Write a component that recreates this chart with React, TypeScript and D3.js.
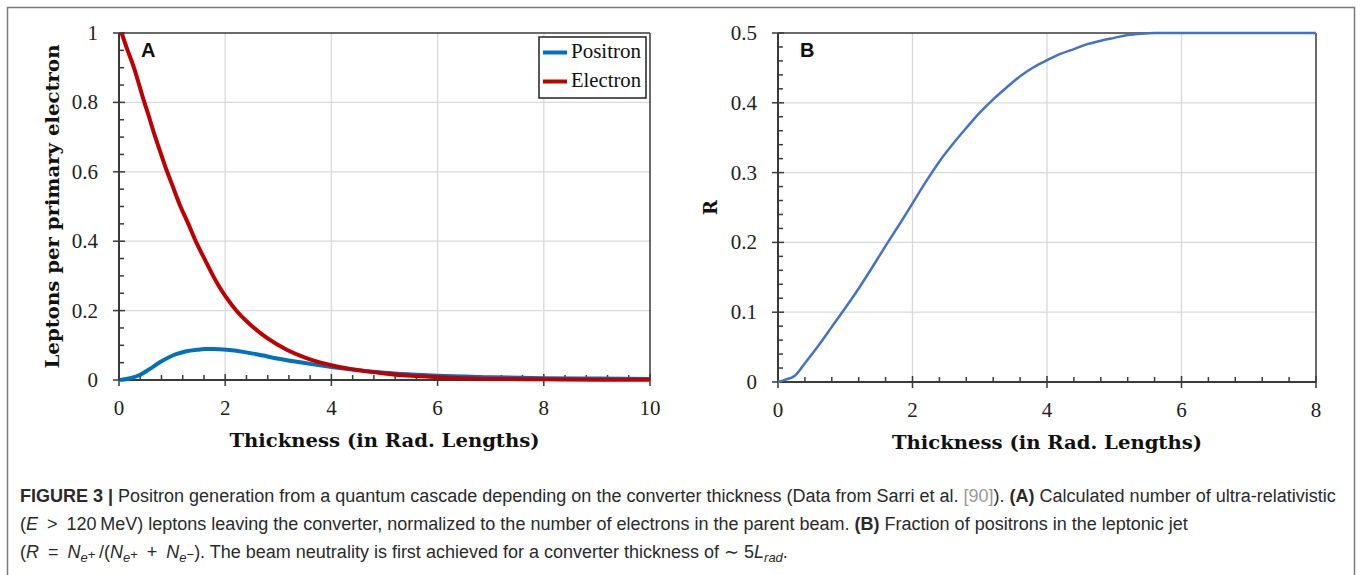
import React from "react";
import * as d3 from "d3";

// ---------- DATA ----------
const electronX = [0.05, 0.15, 0.27, 0.35, 0.45, 0.55, 0.65, 0.77, 0.9, 1.0, 1.15, 1.3, 1.46, 1.62, 1.78, 1.9, 2.03, 2.22, 2.47, 2.78, 3.16, 3.53, 4.04, 4.35, 5.0, 5.5, 6.0, 6.5, 7.0, 8.0, 9.0, 10.0];
const electronY = [1.0, 0.955, 0.905, 0.866, 0.814, 0.766, 0.716, 0.661, 0.603, 0.563, 0.503, 0.452, 0.395, 0.346, 0.298, 0.266, 0.236, 0.198, 0.16, 0.122, 0.087, 0.063, 0.041, 0.032, 0.019, 0.012, 0.008, 0.005, 0.003, 0.002, 0.001, 0.001];
const positronX = [0.02, 0.21, 0.41, 0.58, 0.77, 0.96, 1.09, 1.27, 1.46, 1.62, 1.78, 2.03, 2.34, 2.59, 3.09, 3.66, 4.04, 4.35, 5.0, 5.5, 6.0, 7.0, 8.0, 9.0, 10.0];
const positronY = [0.0, 0.005, 0.016, 0.032, 0.051, 0.067, 0.075, 0.083, 0.087, 0.089, 0.089, 0.087, 0.081, 0.074, 0.059, 0.045, 0.037, 0.031, 0.021, 0.016, 0.012, 0.008, 0.005, 0.004, 0.003];
const ratioX = [0, 0.1, 0.25, 0.4, 0.6, 0.8, 1.0, 1.2, 1.4, 1.6, 1.8, 2.0, 2.2, 2.4, 2.6, 2.8, 3.0, 3.2, 3.4, 3.6, 3.8, 4.0, 4.2, 4.4, 4.6, 4.8, 5.0, 5.2, 5.4, 5.6, 6.0, 7.0, 8.0];
const ratioY = [0, 0.003, 0.009, 0.027, 0.052, 0.079, 0.106, 0.134, 0.164, 0.195, 0.225, 0.256, 0.287, 0.316, 0.341, 0.364, 0.386, 0.405, 0.422, 0.438, 0.451, 0.461, 0.47, 0.477, 0.484, 0.489, 0.493, 0.497, 0.499, 0.5, 0.5, 0.5, 0.5];

const xTicksA = [0, 2, 4, 6, 8, 10];
const yTicksA = [0, 0.2, 0.4, 0.6, 0.8, 1];
const yTickLabelsA = ["0", "0.2", "0.4", "0.6", "0.8", "1"];
const xTicksB = [0, 2, 4, 6, 8];
const yTicksB = [0, 0.1, 0.2, 0.3, 0.4, 0.5];
const yTickLabelsB = ["0", "0.1", "0.2", "0.3", "0.4", "0.5"];
const legendLabels = ["Positron", "Electron"];
const xTitle = "Thickness (in Rad. Lengths)";
const yTitleA = "Leptons per primary electron";
const yTitleB = "R";

// ---------- STYLE ----------
const RED = "#C00000";
const BLUE = "#0070C0";
const BLUE_B = "#4472C4";
const AXIS = "#3a3a3a";
const GRID = "#d9d9d9";
const SERIF = "'Liberation Serif', 'Times New Roman', serif";
const BOLDSERIF = "'DejaVu Serif', serif";
const SANS = "'Liberation Sans', Arial, sans-serif";

type PanelProps = {
  x: d3.ScaleLinear<number, number>;
  y: d3.ScaleLinear<number, number>;
  xTicks: number[];
  yTicks: number[];
  yLabels: string[];
  xMinor: number;
  yMinor: number;
  yTitle: string;
  yTitleX: number;
  yTitleLen?: number;
  letter: string;
};

function Panel({ x, y, xTicks, yTicks, yLabels, xMinor, yMinor, yTitle, yTitleX, yTitleLen, letter }: PanelProps) {
  const [x0, x1] = x.range();
  const [y0, y1] = y.range();
  const [dx0, dx1] = x.domain();
  const [dy0, dy1] = y.domain();
  const xm = d3.range(dx0, dx1 + 1e-9, xMinor).filter((v) => !xTicks.some((t) => Math.abs(t - v) < 1e-6));
  const ym = d3.range(dy0, dy1 + 1e-9, yMinor).filter((v) => !yTicks.some((t) => Math.abs(t - v) < 1e-6));
  return (
    <g>
      {xTicks.slice(1, -1).map((t) => (
        <line key={"gx" + t} x1={x(t)} x2={x(t)} y1={y1} y2={y0} stroke={GRID} strokeWidth={1.3} />
      ))}
      {yTicks.slice(1, -1).map((t) => (
        <line key={"gy" + t} x1={x0} x2={x1} y1={y(t)} y2={y(t)} stroke={GRID} strokeWidth={1.3} />
      ))}
      <line x1={x0} x2={x1} y1={y1} y2={y1} stroke={AXIS} strokeWidth={1.5} />
      <line x1={x1} x2={x1} y1={y1} y2={y0} stroke={AXIS} strokeWidth={1.5} />
      <line x1={x0} x2={x0} y1={y1} y2={y0} stroke={AXIS} strokeWidth={2} />
      <line x1={x0} x2={x1} y1={y0} y2={y0} stroke={AXIS} strokeWidth={2} />
      {xTicks.map((t) => (
        <line key={"tx" + t} x1={x(t)} x2={x(t)} y1={y0 - 6} y2={y0 + 6} stroke={AXIS} strokeWidth={1.5} />
      ))}
      {xm.map((t) => (
        <line key={"mx" + t} x1={x(t)} x2={x(t)} y1={y0 - 5} y2={y0} stroke={AXIS} strokeWidth={1.5} />
      ))}
      {yTicks.map((t) => (
        <line key={"ty" + t} x1={x0 - 6} x2={x0 + 6} y1={y(t)} y2={y(t)} stroke={AXIS} strokeWidth={1.5} />
      ))}
      {ym.map((t) => (
        <line key={"my" + t} x1={x0} x2={x0 + 5} y1={y(t)} y2={y(t)} stroke={AXIS} strokeWidth={1.5} />
      ))}
      {xTicks.map((t) => (
        <text key={"lx" + t} x={x(t)} y={y0 + 35} textAnchor="middle" fontFamily={SERIF} fontSize={21} fill="#222">
          {String(t)}
        </text>
      ))}
      {yTicks.map((t, i) => (
        <text key={"ly" + t} x={x0 - 21} y={y(t) + 7} textAnchor="end" fontFamily={SERIF} fontSize={21} fill="#222">
          {yLabels[i]}
        </text>
      ))}
      <text
        x={(x0 + x1) / 2}
        y={y0 + 67}
        textAnchor="middle"
        fontFamily={BOLDSERIF}
        fontWeight="bold"
        fontSize={18}
        fill="#111"
        textLength={310}
        lengthAdjust="spacingAndGlyphs"
      >
        {xTitle}
      </text>
      <text
        transform={`translate(${yTitleX},${(y0 + y1) / 2}) rotate(-90)`}
        textAnchor="middle"
        fontFamily={BOLDSERIF}
        fontWeight="bold"
        fontSize={18}
        fill="#111"
        {...(yTitleLen ? { textLength: yTitleLen, lengthAdjust: "spacingAndGlyphs" } : {})}
      >
        {yTitle}
      </text>
      <text x={x0 + 22} y={y1 + 24} fontFamily={SANS} fontWeight="bold" fontSize={20} fill="#111">
        {letter}
      </text>
    </g>
  );
}

export default function App() {
  const xA = d3.scaleLinear().domain([0, 10]).range([119, 650]);
  const yA = d3.scaleLinear().domain([0, 1]).range([380, 33]);
  const xB = d3.scaleLinear().domain([0, 8]).range([778, 1316]);
  const yB = d3.scaleLinear().domain([0, 0.5]).range([382, 33]);

  const electron = electronX.map((v, i) => [v, electronY[i]] as [number, number]);
  const positron = positronX.map((v, i) => [v, positronY[i]] as [number, number]);
  const ratio = ratioX.map((v, i) => [v, ratioY[i]] as [number, number]);

  const lineA = d3
    .line<[number, number]>()
    .x((d) => xA(d[0]))
    .y((d) => yA(d[1]))
    .curve(d3.curveMonotoneX);
  const lineB = d3
    .line<[number, number]>()
    .x((d) => xB(d[0]))
    .y((d) => yB(d[1]))
    .curve(d3.curveMonotoneX);

  const legendX = 539;
  const legendY = 37;

  const capY = [502, 530, 558];
  const capX = 20;
  const capFill = "#2a2a2a";
  const capSize = 18;
  const subSize = 13;

  return (
    <svg
      width={1360}
      height={575}
      style={{ position: "absolute", left: 0, top: 0, background: "#fff" }}
      xmlns="http://www.w3.org/2000/svg"
    >
      <rect x={0} y={0} width={1360} height={575} fill="#fff" />
      <rect x={7.5} y={7.5} width={1347} height={600} fill="none" stroke="#7a7a7a" strokeWidth={1.5} />

      <Panel
        x={xA}
        y={yA}
        xTicks={xTicksA}
        yTicks={yTicksA}
        yLabels={yTickLabelsA}
        xMinor={0.4}
        yMinor={0.05}
        yTitle={yTitleA}
        yTitleX={59}
        yTitleLen={324}
        letter="A"
      />
      <path d={lineA(positron) || ""} fill="none" stroke={BLUE} strokeWidth={4} strokeLinejoin="round" />
      <path d={lineA(electron) || ""} fill="none" stroke={RED} strokeWidth={4} strokeLinejoin="round" />

      <rect x={legendX} y={legendY} width={107} height={61} fill="#fff" stroke="#222" strokeWidth={1.5} />
      {legendLabels.map((lab, i) => (
        <g key={lab}>
          <line
            x1={legendX + 4}
            x2={legendX + 28}
            y1={legendY + 15.5 + i * 29}
            y2={legendY + 15.5 + i * 29}
            stroke={i === 0 ? BLUE : RED}
            strokeWidth={4}
          />
          <text
            x={legendX + 32}
            y={legendY + 21 + i * 29}
            fontFamily={SERIF}
            fontSize={20}
            fill="#111"
            textLength={70}
            lengthAdjust="spacingAndGlyphs"
          >
            {lab}
          </text>
        </g>
      ))}

      <Panel
        x={xB}
        y={yB}
        xTicks={xTicksB}
        yTicks={yTicksB}
        yLabels={yTickLabelsB}
        xMinor={0.4}
        yMinor={0.02}
        yTitle={yTitleB}
        yTitleX={717}
        letter="B"
      />
      <path d={lineB(ratio) || ""} fill="none" stroke={BLUE_B} strokeWidth={2.5} strokeLinejoin="round" />

      <text x={capX} y={capY[0]} fontFamily={SANS} fontSize={capSize} fill={capFill}>
        <tspan fontWeight="bold">FIGURE 3 |</tspan>
        <tspan> Positron generation from a quantum cascade depending on the converter thickness (Data from Sarri et al. </tspan>
        <tspan fill="#9a9a9a">[90]</tspan>
        <tspan>). </tspan>
        <tspan fontWeight="bold">(A)</tspan>
        <tspan> Calculated number of ultra-relativistic</tspan>
      </text>
      <text x={capX} y={capY[1]} fontFamily={SANS} fontSize={capSize} fill={capFill}>
        <tspan>(</tspan>
        <tspan fontStyle="italic">E</tspan>
        <tspan>{"\u2002>\u2002120\u2009MeV) leptons leaving the converter, normalized to the number of electrons in the parent beam. "}</tspan>
        <tspan fontWeight="bold">(B)</tspan>
        <tspan> Fraction of positrons in the leptonic jet</tspan>
      </text>
      <text x={capX} y={capY[2]} fontFamily={SANS} fontSize={capSize} fill={capFill}>
        <tspan>(</tspan>
        <tspan fontStyle="italic">R</tspan>
        <tspan>{"\u2002=\u2002"}</tspan>
        <tspan fontStyle="italic">N</tspan>
        <tspan fontSize={subSize} dy={4} fontStyle="italic">e</tspan>
        <tspan fontSize={subSize} dy={-3}>+</tspan>
        <tspan dy={-1}>{"\u2009/("}</tspan>
        <tspan fontStyle="italic">N</tspan>
        <tspan fontSize={subSize} dy={4} fontStyle="italic">e</tspan>
        <tspan fontSize={subSize} dy={-3}>+</tspan>
        <tspan dy={-1}>{"\u2002+\u2002"}</tspan>
        <tspan fontStyle="italic">N</tspan>
        <tspan fontSize={subSize} dy={4} fontStyle="italic">e</tspan>
        <tspan fontSize={subSize} dy={-3}>{"\u2212"}</tspan>
        <tspan dy={-1}>{"). The beam neutrality is first achieved for a converter thickness of \u223C 5"}</tspan>
        <tspan fontStyle="italic">L</tspan>
        <tspan fontSize={subSize} dy={4} fontStyle="italic">rad</tspan>
        <tspan dy={-4}>.</tspan>
      </text>
    </svg>
  );
}
